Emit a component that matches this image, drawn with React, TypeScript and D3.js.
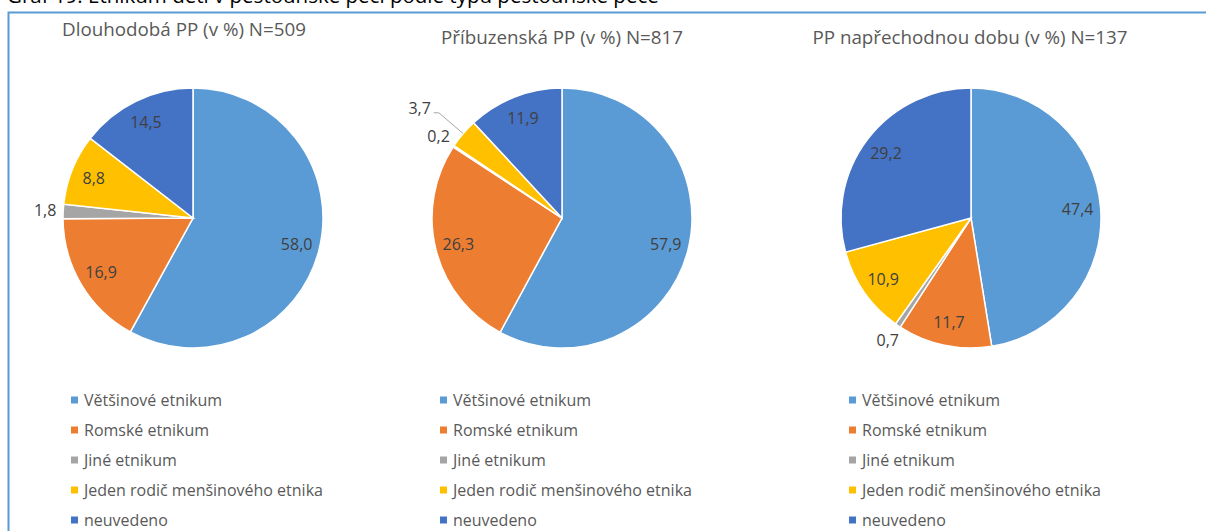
import React from "react";
import * as d3 from "d3";

const categories = [
  "Většinové etnikum",
  "Romské etnikum",
  "Jiné etnikum",
  "Jeden rodič menšinového etnika",
  "neuvedeno",
];
const colors = ["#5B9BD5", "#ED7D31", "#A5A5A5", "#FFC000", "#4472C4"];
const titles = [
  "Dlouhodobá PP (v %) N=509",
  "Příbuzenská PP (v %) N=817",
  "PP napřechodnou dobu (v %) N=137",
];
const dlouhodobaValues = [58.0, 16.9, 1.8, 8.8, 14.5];
const pribuzenskaValues = [57.9, 26.3, 0.2, 3.7, 11.9];
const prechodnaValues = [47.4, 11.7, 0.7, 10.9, 29.2];
const seriesValues = [dlouhodobaValues, pribuzenskaValues, prechodnaValues];
// label placement per slice: in = inside, out = outside, lead = outside with leader line
const labelModes = [
  ["in", "in", "out", "in", "in"],
  ["in", "in", "out", "lead", "in"],
  ["in", "in", "out", "in", "in"],
];
const caption = "Graf 19: Etnikum dětí v pěstounské péči podle typu pěstounské péče";

const W = 1206;
const H = 531;
const R = 130;
const centersX = [193, 562, 971];
const centerY = 218;
const titleX = [184, 562, 970];
const titleY = [36, 44, 44];
const FONT = "'Open Sans', 'Noto Sans', sans-serif";

const fmt = (v: number) => v.toFixed(1).replace(".", ",");

function Pie({ idx }: { idx: number }) {
  const values = seriesValues[idx];
  const cx = centersX[idx];
  const pie = d3.pie<number>().sort(null).value((d) => d);
  const arcs = pie(values);
  const arc = d3.arc<d3.PieArcDatum<number>>().innerRadius(0).outerRadius(R);
  const pt = (a: number, r: number) => [Math.sin(a) * r, -Math.cos(a) * r];
  return (
    <g>
      <text
        x={titleX[idx]}
        y={titleY[idx]}
        textAnchor="middle"
        fontFamily={FONT}
        fontSize={18.8}
        fill="#595959"
      >
        {titles[idx]}
      </text>
      <g transform={`translate(${cx},${centerY})`}>
        {arcs.map((a, i) => (
          <path key={i} d={arc(a) || ""} fill={colors[i]} stroke="#fff" strokeWidth={1.5} />
        ))}
        {arcs.map((a, i) => {
          const mid = (a.startAngle + a.endAngle) / 2;
          const mode = labelModes[idx][i];
          if (mode === "in") {
            const [x, y] = pt(mid, 107);
            return (
              <text key={i} x={x} y={y} dy="0.35em" textAnchor="middle" fontFamily={FONT} fontSize={16} fill="#404040">
                {fmt(values[i])}
              </text>
            );
          }
          if (mode === "out") {
            const [x, y] = pt(mid, 148);
            return (
              <text key={i} x={x} y={y} dy="0.35em" textAnchor="middle" fontFamily={FONT} fontSize={16} fill="#404040">
                {fmt(values[i])}
              </text>
            );
          }
          const [x0, y0] = pt(mid, R);
          const [x1, y1] = pt(mid, 162);
          const x2 = x1 - 5;
          return (
            <g key={i}>
              <polyline
                points={`${x0},${y0} ${x1},${y1} ${x2},${y1}`}
                fill="none"
                stroke="#A6A6A6"
                strokeWidth={1}
              />
              <text x={x2 - 3} y={y1} dy="0.1em" textAnchor="end" fontFamily={FONT} fontSize={16} fill="#404040">
                {fmt(values[i])}
              </text>
            </g>
          );
        })}
      </g>
      {categories.map((c, i) => (
        <g key={c} transform={`translate(${cx - 122},${400 + i * 30})`}>
          <rect x={0} y={-3.5} width={7} height={7} fill={colors[i]} />
          <text x={13} y={0} dy="0.35em" fontFamily={FONT} fontSize={16} fill="#595959">
            {c}
          </text>
        </g>
      ))}
    </g>
  );
}

export default function App() {
  return (
    <div style={{ position: "fixed", left: 0, top: 0, width: W, height: H, background: "#fff" }}>
      <svg width={W} height={H} style={{ display: "block" }}>
        <rect width={W} height={H} fill="#fff" />
        <text x={7} y={3} fontFamily={FONT} fontSize={20.5} fill="#000">
          {caption}
        </text>
        <path d={`M8.5,${H} L8.5,12.5 L${W},12.5`} fill="none" stroke="#5B9BD5" strokeWidth={2} />
        {[0, 1, 2].map((i) => (
          <Pie key={i} idx={i} />
        ))}
      </svg>
    </div>
  );
}
